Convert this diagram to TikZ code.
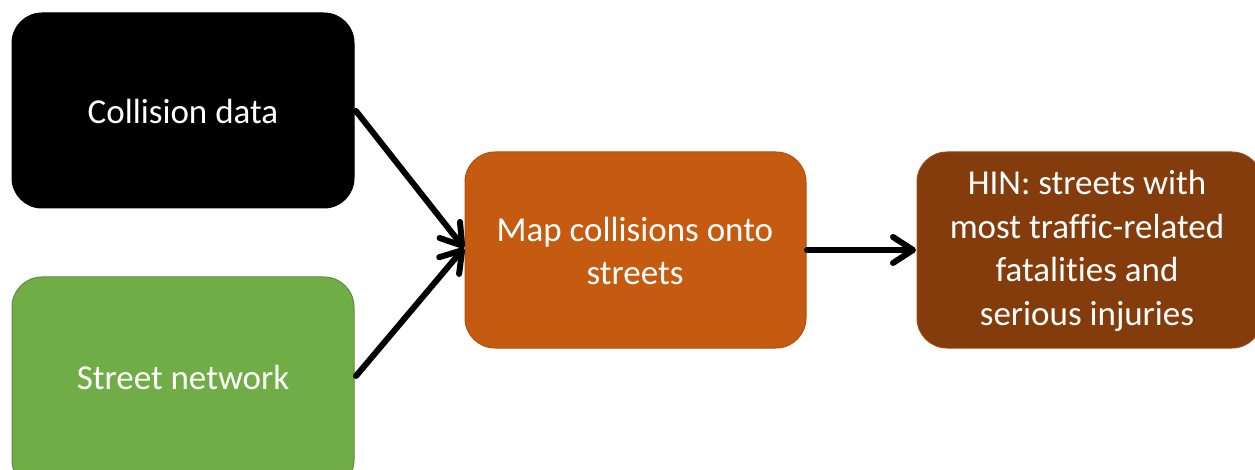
\documentclass[tikz,border=0pt]{standalone}
\usepackage{fontspec}
\setmainfont[Ligatures=NoCommon]{Carlito}
\usetikzlibrary{arrows.meta}
\definecolor{grn}{HTML}{70AD47}
\definecolor{grnb}{HTML}{5B8E39}
\definecolor{org}{HTML}{C55A11}
\definecolor{orgb}{HTML}{B0500F}
\definecolor{brn}{HTML}{843C0C}
\definecolor{brnb}{HTML}{A04A12}
\tikzset{
  box/.style={rounded corners=30pt, line width=1pt, text=white, align=center,
    font=\fontsize{35}{43.5}\selectfont, inner sep=0pt},
  conn/.style={line width=6pt, line cap=round, -{Straight Barb[length=20pt,width=26pt,line width=6pt, round]}}
}
\begin{document}
\begin{tikzpicture}[x=1pt,y=-1pt]
\useasboundingbox (0,0) rectangle (1255,470);
\path[box, fill=black, draw=black] (12,13) rectangle (354,208);
\node[box] (cd) at (183,111) {Collision data};
\coordinate (cdr) at (356,111);
\path[box, fill=grn, draw=grnb] (12,277) rectangle (354,490);
\node[box] (sn) at (183,377) {Street network};
\coordinate (snr) at (356,376);
\path[box, fill=org, draw=orgb] (465,152) rectangle (806,348);
\node[box] (mc) at (635,251) {Map collisions onto\\streets};
\coordinate (mcl) at (464,248);
\coordinate (mcr) at (807,250);
\path[box, fill=brn, draw=brnb] (917,152) rectangle (1262,348);
\node[box] (hin) at (1087,251) {HIN: streets with\\most traffic-related\\fatalities and\\serious injuries};
\coordinate (hinl) at (916,250);
\draw[conn] (cdr) -- (mcl);
\draw[conn] (snr) -- (mcl);
\draw[conn] (mcr) -- (hinl);
\end{tikzpicture}
\end{document}
